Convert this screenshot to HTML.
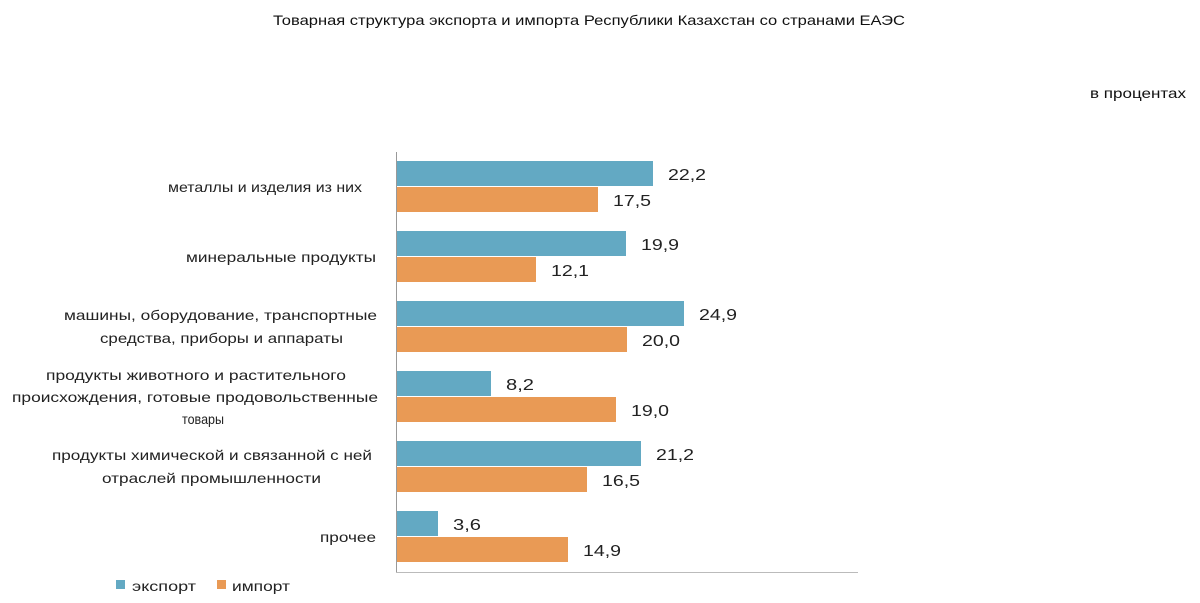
<!DOCTYPE html>
<html><head><meta charset="utf-8"><style>
html,body{margin:0;padding:0;background:#fff;width:1200px;height:603px;overflow:hidden}
svg text{font-family:"Liberation Sans","DejaVu Sans",sans-serif}
</style></head><body>
<svg width="1200" height="603" viewBox="0 0 1200 603" xmlns="http://www.w3.org/2000/svg">
<text x="273" y="25" font-size="14" fill="#111" textLength="632" lengthAdjust="spacingAndGlyphs">Товарная структура экспорта и импорта Республики Казахстан со странами ЕАЭС</text>
<text x="1090" y="98" font-size="14" fill="#111" textLength="96" lengthAdjust="spacingAndGlyphs">в процентах</text>
<line x1="396.5" y1="152" x2="396.5" y2="572" stroke="#999" stroke-width="1"/>
<line x1="396" y1="572.5" x2="858" y2="572.5" stroke="#bbb" stroke-width="1"/>
<g font-size="16" fill="#222">
<rect x="397" y="161" width="256" height="25" fill="#63a9c3"/><rect x="397" y="187" width="201" height="25" fill="#e99a55"/>
<text x="668" y="180" textLength="38" lengthAdjust="spacingAndGlyphs">22,2</text><text x="613" y="206" textLength="38" lengthAdjust="spacingAndGlyphs">17,5</text>
<rect x="397" y="231" width="229" height="25" fill="#63a9c3"/><rect x="397" y="257" width="139" height="25" fill="#e99a55"/>
<text x="641" y="250" textLength="38" lengthAdjust="spacingAndGlyphs">19,9</text><text x="551" y="276" textLength="38" lengthAdjust="spacingAndGlyphs">12,1</text>
<rect x="397" y="301" width="287" height="25" fill="#63a9c3"/><rect x="397" y="327" width="230" height="25" fill="#e99a55"/>
<text x="699" y="320" textLength="38" lengthAdjust="spacingAndGlyphs">24,9</text><text x="642" y="346" textLength="38" lengthAdjust="spacingAndGlyphs">20,0</text>
<rect x="397" y="371" width="94" height="25" fill="#63a9c3"/><rect x="397" y="397" width="219" height="25" fill="#e99a55"/>
<text x="506" y="390" textLength="28" lengthAdjust="spacingAndGlyphs">8,2</text><text x="631" y="416" textLength="38" lengthAdjust="spacingAndGlyphs">19,0</text>
<rect x="397" y="441" width="244" height="25" fill="#63a9c3"/><rect x="397" y="467" width="190" height="25" fill="#e99a55"/>
<text x="656" y="460" textLength="38" lengthAdjust="spacingAndGlyphs">21,2</text><text x="602" y="486" textLength="38" lengthAdjust="spacingAndGlyphs">16,5</text>
<rect x="397" y="511" width="41" height="25" fill="#63a9c3"/><rect x="397" y="537" width="171" height="25" fill="#e99a55"/>
<text x="453" y="530" textLength="28" lengthAdjust="spacingAndGlyphs">3,6</text><text x="583" y="556" textLength="38" lengthAdjust="spacingAndGlyphs">14,9</text>
</g>
<g font-size="14" fill="#222" lengthAdjust="spacingAndGlyphs">
<text x="168" y="192" textLength="194" lengthAdjust="spacingAndGlyphs">металлы и изделия из них</text>
<text x="186" y="262" textLength="190" lengthAdjust="spacingAndGlyphs">минеральные продукты</text>
<text x="64" y="320" textLength="313" lengthAdjust="spacingAndGlyphs">машины, оборудование, транспортные</text>
<text x="100" y="343" textLength="243" lengthAdjust="spacingAndGlyphs">средства, приборы и аппараты</text>
<text x="46" y="380" textLength="300" lengthAdjust="spacingAndGlyphs">продукты животного и растительного</text>
<text x="12" y="402" textLength="366" lengthAdjust="spacingAndGlyphs">происхождения, готовые продовольственные</text>
<text x="182" y="424" textLength="42" lengthAdjust="spacingAndGlyphs">товары</text>
<text x="52" y="460" textLength="320" lengthAdjust="spacingAndGlyphs">продукты химической и связанной с ней</text>
<text x="102" y="483" textLength="219" lengthAdjust="spacingAndGlyphs">отраслей промышленности</text>
<text x="320" y="542" textLength="56" lengthAdjust="spacingAndGlyphs">прочее</text>
</g>
<rect x="116" y="580" width="9" height="9" fill="#63a9c3"/>
<text x="132" y="591" font-size="14" fill="#222" textLength="64" lengthAdjust="spacingAndGlyphs">экспорт</text>
<rect x="217" y="580" width="9" height="9" fill="#e99a55"/>
<text x="232" y="591" font-size="14" fill="#222" textLength="58" lengthAdjust="spacingAndGlyphs">импорт</text>
</svg>
</body></html>
